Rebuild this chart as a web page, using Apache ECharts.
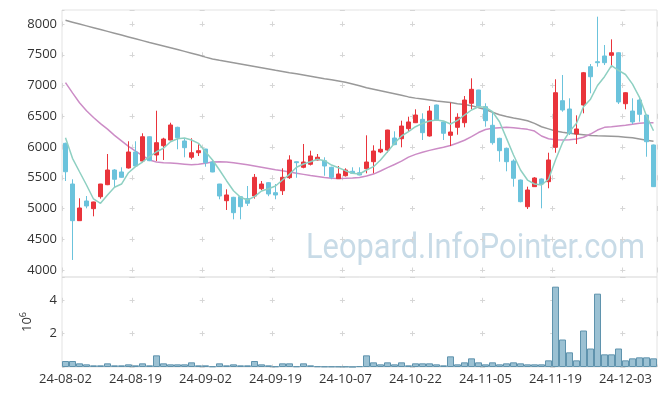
<!DOCTYPE html>
<html><head><meta charset="utf-8">
<script src="https://cdn.jsdelivr.net/npm/echarts@6/dist/echarts.min.js"></script>
<style>html,body{margin:0;padding:0;background:#fff}#c{width:665px;height:396px}</style>
</head><body><div id="c"></div>
<script>
const dates = ["24-08-02","24-08-05","24-08-06","24-08-07","24-08-08","24-08-09","24-08-12","24-08-13","24-08-14","24-08-16",
"24-08-19","24-08-20","24-08-21","24-08-22","24-08-23","24-08-26","24-08-27","24-08-28","24-08-29","24-08-30",
"24-09-02","24-09-03","24-09-04","24-09-05","24-09-06","24-09-09","24-09-10","24-09-11","24-09-12","24-09-13",
"24-09-19","24-09-20","24-09-23","24-09-24","24-09-25","24-09-26","24-09-27","24-09-30","24-10-02","24-10-04",
"24-10-07","24-10-08","24-10-10","24-10-11","24-10-14","24-10-15","24-10-16","24-10-17","24-10-18","24-10-21",
"24-10-22","24-10-23","24-10-24","24-10-25","24-10-28","24-10-29","24-10-30","24-10-31","24-11-01","24-11-04",
"24-11-05","24-11-06","24-11-07","24-11-08","24-11-11","24-11-12","24-11-13","24-11-14","24-11-15","24-11-18",
"24-11-19","24-11-20","24-11-21","24-11-22","24-11-25","24-11-26","24-11-27","24-11-28","24-11-29","24-12-02",
"24-12-03","24-12-04","24-12-05","24-12-06","24-12-09"];
const opens = [6060,5398,4802,5122,4997,5192,5387,5626,5594,5659,5919,5772,6167,5870,6021,6114,6320,6098,5833,5907,
5967,5756,5398,5127,5182,5192,5160,5203,5322,5420,5257,5289,5501,5760,5670,5719,5789,5777,5670,5485,
5533,5605,5582,5647,5761,5919,5951,6146,6135,6298,6395,6450,6179,6683,6407,6190,6320,6395,6711,6927,
6655,6353,6141,5979,5772,5463,5029,5355,5480,5436,5995,6753,6618,6211,6683,7306,7387,7480,7491,7533,
6704,6585,6764,6520,6033];
const closes = [5598,4802,5008,5041,5106,5398,5626,5475,5507,5919,5691,6167,5777,6070,6130,6358,6151,5989,5907,5940,
5745,5594,5203,5220,4932,5029,5085,5507,5398,5236,5220,5507,5789,5745,5756,5854,5833,5691,5507,5561,
5626,5572,5545,5756,5935,5963,6276,6038,6341,6407,6520,6233,6585,6439,6223,6244,6483,6764,6938,6667,
6428,6070,5940,5761,5491,5111,5301,5496,5398,5789,6883,6602,6223,6293,7208,7143,7371,7371,7533,6732,
6883,6407,6532,6086,5355];
const lows = [5447,4163,4800,5003,4873,5160,5380,5345,5500,5650,5680,5750,5770,5772,5789,6110,5963,5833,5800,5854,
5680,5590,5150,4976,4824,4824,5041,5160,5300,5200,5150,5220,5480,5500,5654,5700,5780,5533,5475,5480,
5520,5560,5540,5572,5572,5900,5907,6030,5995,6255,6390,6114,6170,6423,6114,6016,6200,6320,6613,6660,
6330,6038,5761,5605,5355,5100,4992,5350,5003,5329,5907,6574,6195,6049,6548,6873,7306,7333,7296,6699,
6613,6374,6411,5842,5350];
const highs = [6070,5475,5166,5203,5110,5400,5886,5640,5670,6093,6093,6223,6170,6590,6150,6395,6330,6140,6142,6044,
5970,5780,5400,5312,5190,5200,5366,5561,5447,5430,5398,5654,5865,5765,6049,5940,5886,5833,5680,5691,
5654,5670,5670,6190,6028,6114,6280,6255,6428,6493,6613,6548,6667,6690,6410,6720,6548,6829,7117,6930,
6711,6574,6150,5990,5800,5470,5355,5510,5490,5907,7101,7171,6792,6515,7220,7350,8119,7659,7751,7540,
6890,6792,6808,6530,6040];
const ma5 = [6151,5816,5598,5382,5155,5085,5220,5345,5398,5582,5680,5756,5842,5923,5979,6086,6135,6146,6114,6060,
5923,5789,5626,5452,5289,5182,5138,5192,5285,5322,5366,5463,5556,5670,5724,5761,5800,5777,5707,5663,
5615,5572,5561,5626,5680,5789,5923,6060,6179,6249,6330,6385,6423,6439,6423,6374,6433,6520,6602,6655,
6645,6574,6411,6141,5870,5626,5463,5398,5382,5475,5790,6070,6250,6385,6655,6778,7000,7143,7325,7247,
7179,7022,6808,6504,6265];
const ma20 = [7046,6880,6720,6590,6480,6380,6290,6190,6100,6010,5935,5860,5790,5755,5745,5740,5730,5720,5710,5718,
5735,5755,5761,5755,5745,5728,5710,5690,5670,5650,5630,5612,5595,5575,5555,5535,5520,5505,5492,5488,
5490,5495,5505,5530,5560,5610,5665,5715,5770,5835,5880,5915,5945,5970,5995,6025,6065,6110,6170,6235,
6285,6304,6315,6320,6315,6300,6287,6260,6179,6135,6119,6114,6119,6130,6158,6211,6276,6320,6330,6341,
6352,6369,6385,6395,6395];
const ma120 = [8060,8030,8000,7970,7940,7910,7880,7850,7820,7790,7760,7730,7700,7672,7644,7615,7585,7555,7525,7495,
7462,7432,7410,7390,7370,7350,7330,7310,7290,7270,7248,7228,7208,7190,7170,7150,7130,7110,7092,7072,
7052,7025,6995,6965,6940,6915,6890,6865,6840,6815,6795,6780,6765,6750,6737,6722,6705,6690,6672,6640,
6610,6565,6525,6495,6470,6450,6428,6385,6330,6295,6260,6240,6225,6212,6200,6188,6183,6180,6176,6170,
6160,6150,6130,6110,6095];
const volumes = [360000,360000,220000,160000,100000,100000,220000,100000,100000,160000,100000,220000,100000,700000,220000,160000,160000,160000,280000,100000,
100000,40000,220000,100000,160000,100000,100000,360000,160000,100000,40000,220000,220000,40000,220000,100000,40000,30000,30000,30000,
30000,10000,50000,700000,280000,160000,280000,160000,280000,100000,220000,220000,220000,160000,100000,640000,160000,280000,520000,280000,
160000,280000,160000,220000,280000,220000,160000,160000,160000,400000,4820000,1650000,880000,400000,2190000,1110000,4400000,760000,760000,1110000,
400000,520000,580000,580000,520000];
const priceTicks = [4000,4500,5000,5500,6000,6500,7000,7500,8000];

const ohlc = opens.map((o,i)=>[o, closes[i], lows[i], highs[i]]);
const chart = echarts.init(document.getElementById('c'), null, {renderer:'canvas'});
const UP='#e9343b', DOWN='#6bc3dc';
const labelFont = {fontFamily:'Open Sans', fontSize:13, color:'#333'};
chart.setOption({
  animation:false,
  backgroundColor:'#fff',
  graphic:[{type:'text', left:306, top:232, z:0, silent:true, scaleX:0.88,
    style:{text:'Leopard.InfoPointer.com', font:'35px Roboto', fill:'#c8dbe7'}}],
  grid:[{left:62,right:8,top:10,height:267,show:true,borderColor:'#e3e3e3',borderWidth:1},
        {left:62,right:8,top:277,height:90,show:true,borderColor:'#e3e3e3',borderWidth:1}],
  xAxis:[
    {type:'category',gridIndex:0,data:dates,boundaryGap:true,axisLine:{show:false},axisTick:{show:false},axisLabel:{show:false},
     splitLine:{show:true,interval:9,lineStyle:{color:'#d6d6d6',width:1,type:[5,25.75],dashOffset:19.23}}},
    {type:'category',gridIndex:1,data:dates,boundaryGap:true,axisLine:{show:false},axisTick:{show:false},
     axisLabel:Object.assign({interval:9,margin:6},labelFont),
     splitLine:{show:true,interval:9,lineStyle:{color:'#d6d6d6',width:1,type:[5,28.33],dashOffset:12.53}}}
  ],
  yAxis:[
    {type:'value',gridIndex:0,min:3886,max:8228,splitNumber:8,axisLine:{show:false},axisTick:{show:false},
     axisLabel:Object.assign({showMinLabel:false,showMaxLabel:false,margin:5,
       formatter:v=>priceTicks.includes(v)?String(v):''},labelFont),
     splitLine:{show:true,lineStyle:{color:'#d6d6d6',width:1,type:[5,65.1],dashOffset:2.5}}},
    {type:'value',gridIndex:1,min:0,max:5400000,interval:2000000,axisLine:{show:false},axisTick:{show:false},
     axisLabel:Object.assign({showMinLabel:false,showMaxLabel:false,margin:5,formatter:v=>String(v/1e6)},labelFont),
     name:'10{s|6}',nameLocation:'middle',nameRotate:90,nameGap:26,
     nameTextStyle:{fontFamily:'Open Sans',fontSize:13,color:'#333',rich:{s:{fontFamily:'Open Sans',fontSize:9,color:'#333',padding:[0,0,8,0]}}},
     splitLine:{show:true,lineStyle:{color:'#d6d6d6',width:1,type:[5,65.1],dashOffset:2.5}}}
  ],
  series:[
    {type:'line',name:'MA120',xAxisIndex:0,yAxisIndex:0,data:ma120,symbol:'none',z:3,lineStyle:{color:'#999999',width:1.5}},
    {type:'line',name:'MA20',xAxisIndex:0,yAxisIndex:0,data:ma20,symbol:'none',z:3,lineStyle:{color:'#cc8cc6',width:1.5}},
    {type:'candlestick',xAxisIndex:0,yAxisIndex:0,data:ohlc,barWidth:5,z:4,
     itemStyle:{color:UP,color0:DOWN,borderColor:UP,borderColor0:DOWN,borderWidth:1}},
    {type:'line',name:'MA5',xAxisIndex:0,yAxisIndex:0,data:ma5,symbol:'none',z:5,lineStyle:{color:'#8ed0c2',width:1.5}},
    {type:'bar',xAxisIndex:1,yAxisIndex:1,data:volumes,barCategoryGap:'0%',
     itemStyle:{color:'#9bc1d3',borderColor:'#5f93ad',borderWidth:1}}
  ]
});
</script></body></html>
